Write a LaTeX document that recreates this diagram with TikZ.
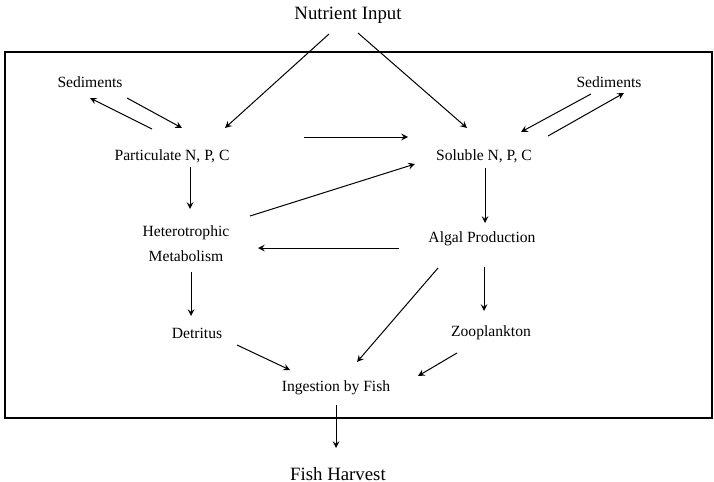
\documentclass[tikz,border=0pt]{standalone}
\usepackage{fontspec}
\setmainfont{Liberation Serif}
\usepackage{tikz}
\usetikzlibrary{arrows}
\usetikzlibrary{positioning, calc}

\begin{document}
\begin{tikzpicture}[x=0.5pt, y=-0.5pt,
    lbl/.style={font=\fontsize{7.8pt}{12.5pt}\selectfont, inner sep=0pt, align=center},
    big/.style={font=\fontsize{9.4pt}{11pt}\selectfont, inner sep=0pt},
    arr/.style={->, >=stealth, line width=0.5pt}]
      \useasboundingbox (0, 0) rectangle (714, 482);

      \draw[line width=0.8pt] (5, 52) rectangle (712, 418);

      \node[big] (nut) at (348, 15) {Nutrient Input};
      \node[lbl] (sedL) at (90, 82) {Sediments};
      \node[lbl] (sedR) at (609, 82) {Sediments};
      \node[lbl] (part) at (172, 156) {Particulate N, P, C};
      \node[lbl] (sol) at (484, 156) {Soluble N, P, C};
      \node[lbl] (het) at (186, 244) {Heterotrophic\\Metabolism};
      \node[lbl] (alg) at (482, 239) {Algal Production};
      \node[lbl] (det) at (197, 333) {Detritus};
      \node[lbl] (zoo) at (491, 333) {Zooplankton};
      \node[lbl] (ing) at (336, 388) {Ingestion by Fish};
      \node[big] (fish) at (338, 474) {Fish Harvest};

      \draw[arr] ([shift={(-19, 19)}]nut.center) -- ([shift={(53, -28)}]part.center);
      \draw[arr] ([shift={(10, 18)}]nut.center) -- ([shift={(-17, -28)}]sol.center);

      \draw[arr] ([shift={(-20, -27)}]part.center) -- ([shift={(0, 16)}]sedL.center);
      \draw[arr] ([shift={(37, 16)}]sedL.center) -- ([shift={(10, -28)}]part.center);
      \draw[arr] ([shift={(-18, 12)}]sedR.center) -- ([shift={(37, -24)}]sol.center);
      \draw[arr] ([shift={(64, -20)}]sol.center) -- ([shift={(15, 11)}]sedR.center);

      \draw[arr] ([shift={(132, -19)}]part.center) -- ([shift={(-76, -19)}]sol.center);
      \draw[arr] ([shift={(18, 11)}]part.center) -- ([shift={(4, -35)}]het.center);
      \draw[arr] ([shift={(64, -28)}]het.center) -- ([shift={(-69, 8)}]sol.center);
      \draw[arr] ([shift={(1, 12)}]sol.center) -- ([shift={(3, -16)}]alg.center);
      \draw[arr] ([shift={(-83, 9)}]alg.center) -- ([shift={(72, 4)}]het.center);

      \draw[arr] ([shift={(2, 28)}]alg.center) -- ([shift={(-7, -22)}]zoo.center);
      \draw[arr] ([shift={(-44, 29)}]alg.center) -- ([shift={(21, -26)}]ing.center);
      \draw[arr] ([shift={(5, 28)}]het.center) -- ([shift={(-6, -17)}]det.center);
      \draw[arr] ([shift={(40, 12)}]det.center) -- ([shift={(-46, -18)}]ing.center);
      \draw[arr] ([shift={(-34, 20)}]zoo.center) -- ([shift={(82, -12)}]ing.center);
      \draw[arr] ([shift={(0, 17)}]ing.center) -- ([shift={(-2, -26)}]fish.center);

    \end{tikzpicture}
\end{document}
